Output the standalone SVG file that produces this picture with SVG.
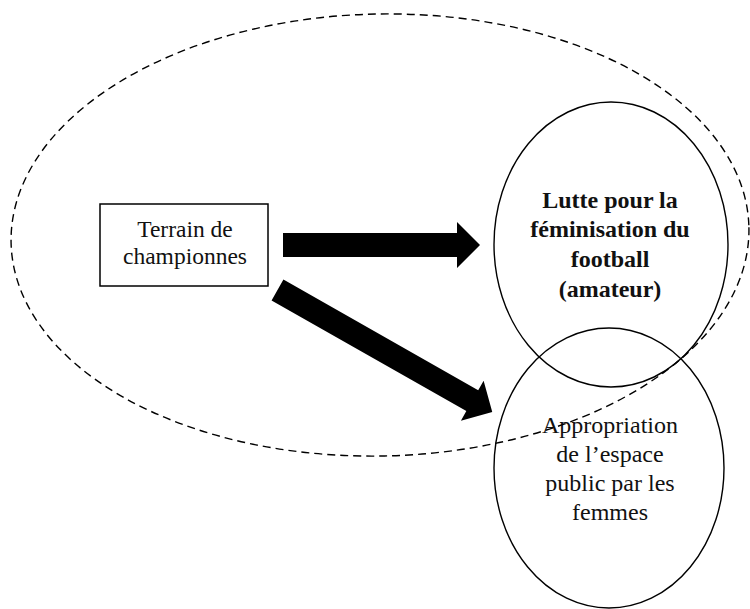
<svg xmlns="http://www.w3.org/2000/svg" width="750" height="609" viewBox="0 0 750 609">
<style>
.bg{fill:#fff}
.ell{fill:none;stroke:#000;stroke-width:1.4}
.dash{fill:none;stroke:#000;stroke-width:1.4;stroke-dasharray:8 5}
.box{fill:#fff;stroke:#000;stroke-width:1.5}
.t{font-family:"Liberation Serif","Times New Roman",serif;font-size:24px;fill:#111;text-anchor:middle}
.tb{font-family:"Liberation Serif","Times New Roman",serif;font-size:24px;font-weight:bold;fill:#111;text-anchor:middle}
.arr{fill:#000}
</style>
<rect class="bg" x="0" y="0" width="750" height="609"/>
<g id="node-terrain">
<rect class="box" x="100" y="204" width="168" height="82"/>
<text class="t" x="185" y="237" style="font-size:23.5px">Terrain de</text>
<text class="t" x="185" y="264" style="font-size:23.5px">championnes</text>
</g>
<g id="node-lutte">
<ellipse class="ell" cx="611" cy="244.5" rx="117" ry="142.5"/>
<text class="tb" x="610" y="208">Lutte pour la</text>
<text class="tb" x="610" y="237">féminisation du</text>
<text class="tb" x="610" y="267">football</text>
<text class="tb" x="610" y="297">(amateur)</text>
</g>
<g id="node-appropriation">
<ellipse class="ell" cx="609" cy="468" rx="115" ry="140"/>
<text class="t" x="610" y="433">Appropriation</text>
<text class="t" x="610" y="462">de l’espace</text>
<text class="t" x="610" y="491">public par les</text>
<text class="t" x="610" y="520">femmes</text>
</g>
<g id="node-cadre">
<ellipse class="dash" cx="380" cy="235" rx="369" ry="221" transform="rotate(-1.2 380 235)"/>
</g>
<g id="connectors">
<polygon class="arr" points="283,233 457,233 457,222 480,245 457,268 457,257 283,257"/>
<polygon class="arr" transform="translate(277.5,290) rotate(29.6)" points="0,-12 224,-12 224,-23 247,0 224,23 224,12 0,12"/>
</g>
</svg>
